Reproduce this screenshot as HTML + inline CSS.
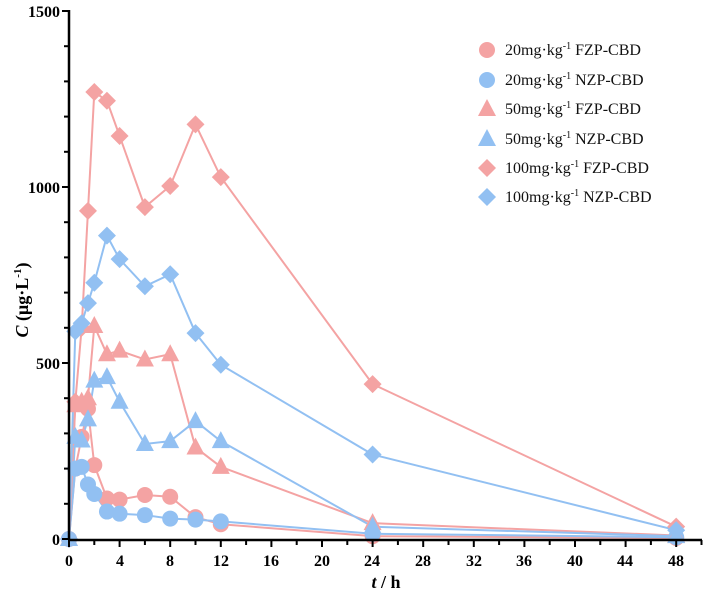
<!DOCTYPE html>
<html><head><meta charset="utf-8"><style>
body{margin:0;background:#fff;}
svg{display:block;font-family:"Liberation Serif",serif;}
.tk{font-weight:bold;font-size:16px;}
.lg{font-size:16px;}
</style></head><body>
<svg id="s" width="708" height="595" viewBox="0 0 708 595" xmlns="http://www.w3.org/2000/svg">
<g id="data"></g>
<g stroke="#000" stroke-width="2.5" fill="none">
<line x1="69" y1="10" x2="69" y2="540"/>
<line x1="68" y1="540" x2="702" y2="540"/>
</g>
<g id="ticks" stroke="#000" stroke-width="2"></g>
<g class="tk" text-anchor="end">
<text x="60" y="17">1500</text>
<text x="60" y="193">1000</text>
<text x="60" y="369">500</text>
<text x="60" y="545">0</text>
</g>
<g class="tk" text-anchor="middle">
<text x="69" y="566">0</text><text x="120" y="566">4</text><text x="170" y="566">8</text>
<text x="221" y="566">12</text><text x="271" y="566">16</text><text x="322" y="566">20</text>
<text x="372" y="566">24</text><text x="423" y="566">28</text><text x="474" y="566">32</text>
<text x="524" y="566">36</text><text x="575" y="566">40</text><text x="625" y="566">44</text>
<text x="676" y="566">48</text>
</g>
<text x="386" y="588" text-anchor="middle" font-weight="bold" font-size="18"><tspan font-style="italic">t</tspan> / h</text>
<text transform="translate(28,300) rotate(-90)" text-anchor="middle" font-weight="bold" font-size="18"><tspan font-style="italic">C</tspan> (μg·L<tspan font-size="11" dy="-7">-1</tspan><tspan dy="7">)</tspan></text>
<g id="leg"></g>
<g class="lg" fill="#111">
<text x="505" y="55">20mg·kg<tspan font-size="10" dy="-6">-1</tspan><tspan dy="6"> FZP-CBD</tspan></text>
<text x="505" y="85">20mg·kg<tspan font-size="10" dy="-6">-1</tspan><tspan dy="6"> NZP-CBD</tspan></text>
<text x="505" y="114">50mg·kg<tspan font-size="10" dy="-6">-1</tspan><tspan dy="6"> FZP-CBD</tspan></text>
<text x="505" y="144">50mg·kg<tspan font-size="10" dy="-6">-1</tspan><tspan dy="6"> NZP-CBD</tspan></text>
<text x="505" y="173">100mg·kg<tspan font-size="10" dy="-6">-1</tspan><tspan dy="6"> FZP-CBD</tspan></text>
<text x="505" y="202">100mg·kg<tspan font-size="10" dy="-6">-1</tspan><tspan dy="6"> NZP-CBD</tspan></text>
</g>
</svg>
<script>
var NS="http://www.w3.org/2000/svg";
function el(t,a,p){var e=document.createElementNS(NS,t);for(var k in a)e.setAttribute(k,a[k]);p.appendChild(e);return e;}
var X=function(t){return 69+t*12.65}, Y=function(v){return 539-v*0.352};
var tk=document.getElementById("ticks");
for(var v=0;v<=1500;v+=100){var L=(v%500==0)?7:5;el("line",{x1:69-L,y1:Y(v),x2:69,y2:Y(v)},tk);}
for(var t=0;t<=50;t+=2){var L=(t%4==0)?7:5;el("line",{x1:X(t),y1:540,x2:X(t),y2:540+L},tk);}
var T=[0,0.5,1,1.5,2,3,4,6,8,10,12,24,48];
var P="#f4a3a3",B="#92c0f2";
var S=[
 {c:P,m:"c",d:[0,200,290,370,210,115,112,125,120,62,42,8,3]},
 {c:B,m:"c",d:[0,200,205,155,128,78,72,68,58,55,50,15,5]},
 {c:P,m:"t",d:[0,380,390,400,605,525,535,510,525,260,205,45,10]},
 {c:B,m:"t",d:[0,290,280,340,450,460,390,270,278,335,278,35,8]},
 {c:P,m:"d",d:[0,390,600,932,1270,1245,1145,943,1003,1178,1028,440,35]},
 {c:B,m:"d",d:[0,590,613,670,728,862,795,718,752,585,495,240,25]}
];
function mk(m,x,y,c,p){
 if(m=="c")el("circle",{cx:x,cy:y,r:8,fill:c},p);
 else if(m=="t")el("polygon",{points:(x)+","+(y-10)+" "+(x+9)+","+(y+7)+" "+(x-9)+","+(y+7),fill:c},p);
 else el("polygon",{points:x+","+(y-9)+" "+(x+9)+","+y+" "+x+","+(y+9)+" "+(x-9)+","+y,fill:c},p);
}
var g=document.getElementById("data");
S.forEach(function(s){var pts=T.map(function(t,i){return X(t)+","+Y(s.d[i])}).join(" ");
 el("polyline",{points:pts,fill:"none",stroke:s.c,"stroke-width":2},g);});
S.forEach(function(s){T.forEach(function(t,i){mk(s.m,X(t),Y(s.d[i]),s.c,g);});});
var lg=document.getElementById("leg"),ly=[50,80,109,139,168,197];
S.forEach(function(s,i){mk(s.m,487,ly[i],s.c,lg);});
</script>
</body></html>
